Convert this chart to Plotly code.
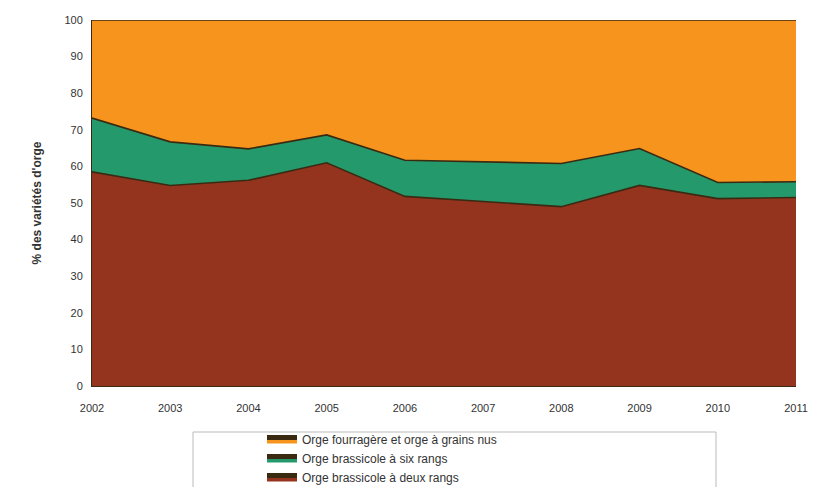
import plotly.graph_objects as go

years = [2002, 2003, 2004, 2005, 2006, 2007, 2008, 2009, 2010, 2011]
deux_rangs = [58.5, 54.8, 56.2, 61.0, 51.8, 50.5, 49.0, 54.8, 51.2, 51.5]
six_rangs = [14.7, 11.9, 8.6, 7.6, 9.9, 10.8, 11.8, 10.1, 4.4, 4.3]
fourragere = [26.8, 33.3, 35.2, 31.4, 38.3, 38.7, 39.2, 35.1, 44.4, 44.2]

names = ["Orge brassicole à deux rangs", "Orge brassicole à six rangs",
         "Orge fourragère et orge à grains nus"]
colors = ["#94341f", "#249a6c", "#f7941d"]
series = [deux_rangs, six_rangs, fourragere]

fig = go.Figure()
for n, c, s in zip(names, colors, series):
    fig.add_trace(go.Scatter(
        x=years, y=s, name=n, stackgroup="one", mode="lines",
        line=dict(color="#3b2a12", width=1.6), fillcolor=c,
    ))

fig.update_layout(
    width=822, height=487,
    margin=dict(l=92, r=26, t=20, b=101, autoexpand=False),
    paper_bgcolor="white", plot_bgcolor="white",
    font=dict(family="Liberation Sans, Arial, sans-serif", color="#333333", size=11),
    showlegend=True,
    legend=dict(
        traceorder="reversed", orientation="v",
        x=(262 - 92) / 704, xanchor="left", y=-(425 - 386) / 366, yanchor="top",
        bgcolor="rgba(0,0,0,0)", font=dict(size=12, color="#333333"),
        itemsizing="constant", tracegroupgap=0,
    ),
    xaxis=dict(
        range=[2002, 2011], tickmode="array", tickvals=years,
        ticktext=[str(y) for y in years], showgrid=False, zeroline=False,
        showline=True, linecolor="#3b2a12", linewidth=1,
        ticks="outside", ticklen=12, tickcolor="rgba(0,0,0,0)",
        tickfont=dict(size=11, color="#333333"),
    ),
    yaxis=dict(
        range=[0, 100], tickmode="linear", dtick=10, showgrid=False,
        zeroline=False, showline=True, linecolor="#3b2a12", linewidth=1,
        ticks="outside", ticklen=6, tickcolor="rgba(0,0,0,0)",
        tickfont=dict(size=11, color="#333333"),
        title=dict(text="<b>% des variétés d'orge</b>", font=dict(size=12, color="#333333"),
                   standoff=20),
    ),
    shapes=[dict(type="rect", xref="paper", yref="paper",
                 x0=(193 - 92) / 704, x1=(716 - 92) / 704,
                 y0=-(487 - 386 + 4) / 366, y1=-(432 - 386) / 366,
                 line=dict(color="#bbbbbb", width=1), fillcolor="rgba(0,0,0,0)")],
)

fig.write_html("out.html")
